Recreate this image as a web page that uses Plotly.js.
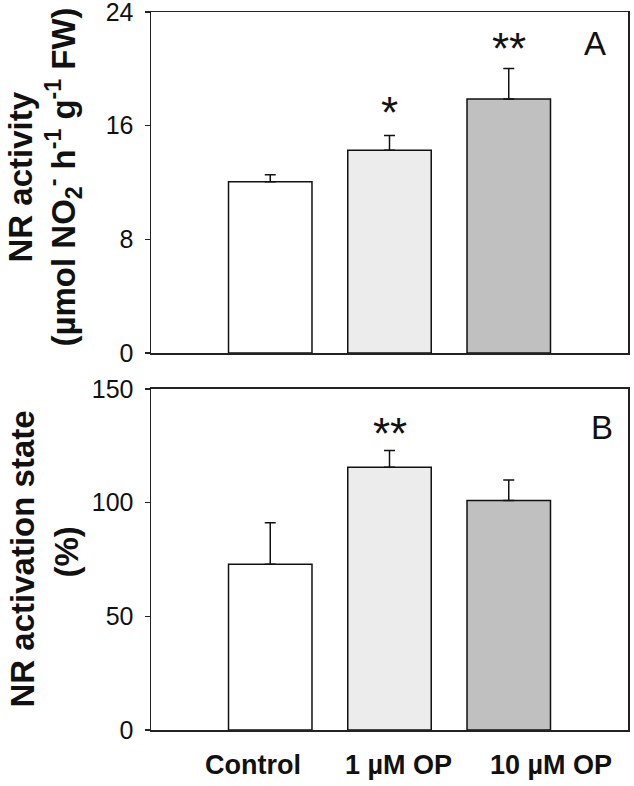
<!DOCTYPE html>
<html>
<head>
<meta charset="utf-8">
<script src="https://cdn.plot.ly/plotly-3.0.1.min.js"></script>
<style>html,body{margin:0;padding:0;background:#fff;}#chart{width:634px;height:786px;}</style>
</head>
<body>
<div id="chart"></div>
<script>
// ---- data ----
const categories = ['Control', '1 µM OP', '10 µM OP'];
const nrActivity = [12.05, 14.28, 17.88];
const nrActivitySE = [0.5, 1.03, 2.14];
const activationState = [72.9, 115.6, 100.9];
const activationSE = [18.3, 7.3, 9.1];
const sigA = ['', '*', '**'];
const sigB = ['', '**', ''];
const yTicksA = [0, 8, 16, 24];
const yTicksB = [0, 50, 100, 150];

// ---- styles ----
const barColors = ['#ffffff', '#ececec', '#c0c0c0'];
const labelShift = [-17, 9, 42];
const sigShiftA = [0, -4, -6];
const sigShiftB = [0, -9, 0];
const FONT = 'Liberation Sans, Arial, sans-serif';
const xs = categories.map((c, i) => i);
const zeros = categories.map(() => 0);

function barTrace(y, se, xa, ya) {
  return {
    type: 'bar', x: xs, y: y, xaxis: xa, yaxis: ya, width: 0.7,
    marker: {color: barColors, line: {color: '#111', width: 1.5}},
    error_y: {type: 'data', symmetric: false, array: se, arrayminus: zeros,
              color: '#111', thickness: 1.5, width: 5.5},
    hoverinfo: 'none', showlegend: false
  };
}

const data = [
  barTrace(nrActivity, nrActivitySE, 'x', 'y'),
  barTrace(activationState, activationSE, 'x2', 'y2')
];

const xBase = {range: [-1, 3], showline: true, mirror: true, linecolor: '#222', linewidth: 1.5,
  ticks: '', showticklabels: false, showgrid: false, zeroline: false, fixedrange: true};
const yBase = {showline: true, mirror: true, linecolor: '#222', linewidth: 1.5,
  ticks: 'outside', ticklen: 5, tickwidth: 1.5, tickcolor: '#222', showgrid: false,
  zeroline: false, ticklabelstandoff: 6, ticklabeloverflow: 'allow',
  tickfont: {family: FONT, size: 25, color: '#111'}};

const annotations = [];
function sigAnn(marks, shifts, vals, se, xa, ya) {
  marks.forEach((m, i) => {
    if (!m) return;
    annotations.push({xref: xa, yref: ya, x: xs[i], y: vals[i] + se[i], text: m,
      showarrow: false, xanchor: 'center', yanchor: 'bottom', yshift: shifts[i],
      font: {family: FONT, size: 44, color: '#111'}});
  });
}
sigAnn(sigA, sigShiftA, nrActivity, nrActivitySE, 'x', 'y');
sigAnn(sigB, sigShiftB, activationState, activationSE, 'x2', 'y2');

// panel letters
annotations.push({xref: 'x domain', yref: 'y domain', x: 1, y: 1, xshift: -33, yshift: -31,
  text: 'A', showarrow: false, xanchor: 'center', yanchor: 'middle',
  font: {family: FONT, size: 33, color: '#111'}});
annotations.push({xref: 'x2 domain', yref: 'y2 domain', x: 1, y: 1, xshift: -26, yshift: -39,
  text: 'B', showarrow: false, xanchor: 'center', yanchor: 'middle',
  font: {family: FONT, size: 33, color: '#111'}});

// category labels
categories.forEach((c, i) => {
  annotations.push({xref: 'x2', yref: 'y2 domain', x: xs[i], y: 0, xshift: labelShift[i], yshift: -35,
    text: '<b>' + c + '</b>', showarrow: false, xanchor: 'center', yanchor: 'middle',
    font: {family: FONT, size: 27, color: '#111'}});
});

// y axis titles (two lines each)
const titleFont = {family: FONT, size: 33, color: '#111', weight: 'bold'};
annotations.push({xref: 'paper', yref: 'y domain', x: 0, y: 0.5, xshift: -130, yshift: 5, textangle: -90,
  text: '<b>NR activity</b>', showarrow: false, xanchor: 'center', yanchor: 'middle', font: titleFont});
annotations.push({xref: 'paper', yref: 'y domain', x: 0, y: 0.5, xshift: -87, yshift: 5, textangle: -90,
  text: '<b>(µmol NO<sub>2</sub><sup>-</sup> h<sup>-1</sup> g<sup>-1</sup> FW)</b>',
  showarrow: false, xanchor: 'center', yanchor: 'middle', font: titleFont});
annotations.push({xref: 'paper', yref: 'y2 domain', x: 0, y: 0.5, xshift: -129, textangle: -90,
  text: '<b>NR activation state</b>', showarrow: false, xanchor: 'center', yanchor: 'middle', font: titleFont});
annotations.push({xref: 'paper', yref: 'y2 domain', x: 0, y: 0.5, xshift: -85, yshift: 7, textangle: -90,
  text: '<b>(%)</b>', showarrow: false, xanchor: 'center', yanchor: 'middle', font: titleFont});

const layout = {
  width: 634, height: 786,
  margin: {l: 151, r: 6, t: 12, b: 56},
  paper_bgcolor: '#fff', plot_bgcolor: '#fff',
  xaxis: Object.assign({}, xBase, {anchor: 'y'}),
  xaxis2: Object.assign({}, xBase, {anchor: 'y2'}),
  yaxis: Object.assign({}, yBase, {domain: [0.525, 1], range: [0, 24], tickvals: yTicksA, anchor: 'x'}),
  yaxis2: Object.assign({}, yBase, {domain: [0, 0.475], range: [0, 150], tickvals: yTicksB, anchor: 'x2'}),
  annotations: annotations,
  font: {family: FONT}
};

Plotly.newPlot('chart', data, layout, {staticPlot: true, displayModeBar: false});
</script>
</body>
</html>
